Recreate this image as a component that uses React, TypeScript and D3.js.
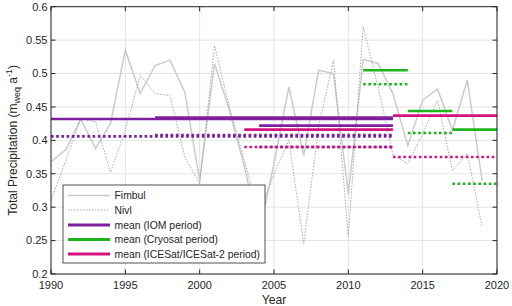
import React from 'react';
import * as d3 from 'd3';

const years = [1990, 1991, 1992, 1993, 1994, 1995, 1996, 1997, 1998, 1999, 2000, 2001, 2002, 2003, 2004, 2005, 2006, 2007, 2008, 2009, 2010, 2011, 2012, 2013, 2014, 2015, 2016, 2017, 2018, 2019];
const fimbul = [0.368, 0.386, 0.432, 0.388, 0.425, 0.535, 0.470, 0.512, 0.520, 0.472, 0.340, 0.515, 0.445, 0.362, 0.262, 0.365, 0.480, 0.377, 0.505, 0.500, 0.320, 0.521, 0.515, 0.470, 0.392, 0.460, 0.477, 0.415, 0.490, 0.340];
const nivl = [0.310, 0.370, 0.432, 0.428, 0.352, 0.415, 0.497, 0.470, 0.467, 0.375, 0.335, 0.542, 0.450, 0.370, 0.290, 0.350, 0.400, 0.245, 0.420, 0.520, 0.256, 0.570, 0.480, 0.378, 0.365, 0.410, 0.460, 0.355, 0.380, 0.270];

// mean segments: [start, end, value]
const iomFimbul = [[1990, 2013, 0.432], [1997, 2013, 0.434], [2004, 2013, 0.422]];
const iomNivl = [[1990, 2013, 0.406], [1997, 2013, 0.408], [2004, 2013, 0.390]];
const cryoFimbul = [[2011, 2014, 0.505], [2014, 2017, 0.444], [2017, 2020, 0.416]];
const cryoNivl = [[2011, 2014, 0.484], [2014, 2017, 0.411], [2017, 2020, 0.335]];
const iceFimbul = [[2003, 2013, 0.416], [2013, 2020, 0.437]];
const iceNivl = [[2003, 2013, 0.390], [2013, 2020, 0.375]];

const xTicks = [1990, 1995, 2000, 2005, 2010, 2015, 2020];
const yTicks = [0.2, 0.25, 0.3, 0.35, 0.4, 0.45, 0.5, 0.55, 0.6];
const yTickLabels = ['0.2', '0.25', '0.3', '0.35', '0.4', '0.45', '0.5', '0.55', '0.6'];
const legendLabels = ['Fimbul', 'Nivl', 'mean (IOM period)', 'mean (Cryosat period)', 'mean (ICESat/ICESat-2 period)'];

const W = 512, H = 306;
const L = 51, R = 497, T = 6.7, B = 274;
const PURPLE = '#7E1F9E';
const GREEN = '#1DB31D';
const PINK = '#D4137F';
const FIMBUL_C = '#cbcbcb';
const NIVL_C = '#a8a8a8';
const AX = '#262626';
const FONT = '"Liberation Sans", Arial, Helvetica, sans-serif';

export default function App() {
  const x = d3.scaleLinear().domain([1990, 2020]).range([L, R]);
  const y = d3.scaleLinear().domain([0.2, 0.6]).range([B, T]);
  const line = d3.line<number>().x((_, i) => x(years[i])).y((d) => y(d));

  const segs = (data: number[][], color: string, dotted: boolean, key: string) =>
    data.map((s, i) => (
      <line key={key + i} x1={x(s[0])} x2={x(s[1])} y1={y(s[2])} y2={y(s[2])}
        stroke={color} strokeWidth={2.6} strokeDasharray={dotted ? '2.6 2.6' : undefined} />
    ));

  const legX = 63, legY = 185, legW = 202, legH = 78;
  const rowY = [195.5, 210, 225, 239.5, 254];
  const legStyles = [
    { c: FIMBUL_C, w: 1.5, d: undefined },
    { c: NIVL_C, w: 1, d: '1.5 1.5' },
    { c: PURPLE, w: 3, d: undefined },
    { c: GREEN, w: 3, d: undefined },
    { c: PINK, w: 3, d: undefined },
  ];

  return (
    <svg width={W} height={H} style={{ position: 'absolute', left: 0, top: 0, background: '#fff' }} fontFamily={FONT}>
      <rect x={0} y={0} width={W} height={H} fill="#fff" />
      {/* grid */}
      {xTicks.map((t) => (
        <line key={'gx' + t} x1={x(t)} x2={x(t)} y1={T} y2={B} stroke="#e4e4e4" strokeWidth={1} />
      ))}
      {yTicks.map((t) => (
        <line key={'gy' + t} x1={L} x2={R} y1={y(t)} y2={y(t)} stroke="#e4e4e4" strokeWidth={1} />
      ))}
      {/* data lines */}
      <path d={line(fimbul) || ''} fill="none" stroke={FIMBUL_C} strokeWidth={1.5} />
      <path d={line(nivl) || ''} fill="none" stroke={NIVL_C} strokeWidth={1} strokeDasharray="1.5 1.5" />
      {/* means */}
      {segs(iomFimbul, PURPLE, false, 'if')}
      {segs(iomNivl, PURPLE, true, 'in')}
      {segs(cryoFimbul, GREEN, false, 'cf')}
      {segs(cryoNivl, GREEN, true, 'cn')}
      {segs(iceFimbul, PINK, false, 'pf')}
      {segs(iceNivl, PINK, true, 'pn')}
      {/* axes box */}
      <rect x={L} y={T} width={R - L} height={B - T} fill="none" stroke={AX} strokeWidth={1} />
      {xTicks.map((t) => (
        <g key={'tx' + t}>
          <line x1={x(t)} x2={x(t)} y1={B} y2={B - 4.5} stroke={AX} />
          <line x1={x(t)} x2={x(t)} y1={T} y2={T + 4.5} stroke={AX} />
          <text x={x(t)} y={289} textAnchor="middle" fontSize={11} fill={AX}>{t}</text>
        </g>
      ))}
      {yTicks.map((t, i) => (
        <g key={'ty' + t}>
          <line x1={L} x2={L + 4.5} y1={y(t)} y2={y(t)} stroke={AX} />
          <line x1={R} x2={R - 4.5} y1={y(t)} y2={y(t)} stroke={AX} />
          <text x={47.5} y={y(t) + 3.9} textAnchor="end" fontSize={11} fill={AX}>{yTickLabels[i]}</text>
        </g>
      ))}
      <text x={(L + R) / 2} y={303.5} textAnchor="middle" fontSize={12.2} fill={AX}>Year</text>
      <text transform={`translate(16.5, ${(T + B) / 2}) rotate(-90)`} textAnchor="middle" fontSize={12} fill={AX}>
        Total Precipitation (m<tspan fontSize={9} dy={3}>weq</tspan><tspan dy={-3}> a</tspan><tspan fontSize={9} dy={-5}>-1</tspan><tspan dy={5}>)</tspan>
      </text>
      {/* legend */}
      <rect x={legX} y={legY} width={legW} height={legH} fill="#fff" stroke={AX} strokeWidth={0.8} />
      {legendLabels.map((lab, i) => (
        <g key={'lg' + i}>
          <line x1={68} x2={110} y1={rowY[i]} y2={rowY[i]} stroke={legStyles[i].c} strokeWidth={legStyles[i].w} strokeDasharray={legStyles[i].d} />
          <text x={114.5} y={rowY[i] + 3.7} fontSize={10.4} fill={AX}>{lab}</text>
        </g>
      ))}
    </svg>
  );
}
